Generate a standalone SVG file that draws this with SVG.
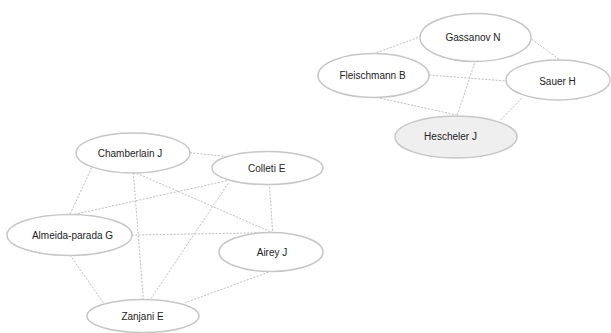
<svg xmlns="http://www.w3.org/2000/svg" width="611" height="333" viewBox="0 0 611 333">
<style>
.e{stroke:#bdbdbd;stroke-width:1;stroke-dasharray:2,1.5;fill:none}
.n ellipse{fill:#fff;stroke:#c6c6c6;stroke-width:1.5}
.n.h ellipse{fill:#efefef}
.n text{font-family:"Liberation Sans",Arial,sans-serif;font-size:10px;fill:#222;text-anchor:middle;dominant-baseline:central}
</style>
<rect width="611" height="333" fill="#fff"/>
<g id="edges">
<line class="e" x1="376.7" y1="52.7" x2="420" y2="36.7"/>
<line class="e" x1="531.7" y1="39.3" x2="560" y2="60"/>
<line class="e" x1="429.3" y1="75" x2="506" y2="81"/>
<line class="e" x1="476.7" y1="56.7" x2="457.3" y2="115"/>
<line class="e" x1="373.3" y1="96.7" x2="456.7" y2="115"/>
<line class="e" x1="521.7" y1="98.3" x2="500" y2="120.7"/>
<line class="e" x1="190" y1="152.7" x2="228.3" y2="156.7"/>
<line class="e" x1="91.7" y1="167.7" x2="70" y2="214.3"/>
<line class="e" x1="133.3" y1="172.7" x2="143.3" y2="299"/>
<line class="e" x1="136.7" y1="173.3" x2="272.7" y2="232.7"/>
<line class="e" x1="226.7" y1="180.7" x2="71.7" y2="215"/>
<line class="e" x1="228.3" y1="183.3" x2="150.7" y2="299"/>
<line class="e" x1="269.3" y1="183.3" x2="272.7" y2="232.7"/>
<line class="e" x1="131.7" y1="235" x2="269.3" y2="232.7"/>
<line class="e" x1="70" y1="255" x2="103.3" y2="302.7"/>
<line class="e" x1="271.7" y1="271" x2="185" y2="302.7"/>
</g>
<g id="gassanov" class="n"><ellipse cx="475.5" cy="37.5" rx="55.5" ry="24"/><text x="473" y="37">Gassanov N</text></g>
<g id="fleischmann" class="n"><ellipse cx="373.5" cy="75.5" rx="55.5" ry="22"/><text x="372.5" y="75">Fleischmann B</text></g>
<g id="sauer" class="n"><ellipse cx="558" cy="80" rx="52" ry="20"/><text x="557.5" y="81">Sauer H</text></g>
<g id="hescheler" class="n h"><ellipse cx="456" cy="137" rx="61" ry="21"/><text x="450.5" y="136">Hescheler J</text></g>
<g id="chamberlain" class="n"><ellipse cx="133" cy="153" rx="57" ry="20"/><text x="130" y="153">Chamberlain J</text></g>
<g id="colleti" class="n"><ellipse cx="267.5" cy="168" rx="55.5" ry="16.5"/><text x="266.7" y="168">Colleti E</text></g>
<g id="almeida" class="n"><ellipse cx="69.5" cy="235" rx="62.5" ry="20.5"/><text x="72.5" y="235">Almeida-parada G</text></g>
<g id="airey" class="n"><ellipse cx="271" cy="252" rx="52" ry="19.5"/><text x="272" y="252.5">Airey J</text></g>
<g id="zanjani" class="n"><ellipse cx="143" cy="316" rx="56" ry="16.5"/><text x="142.5" y="316.5">Zanjani E</text></g>
</svg>
